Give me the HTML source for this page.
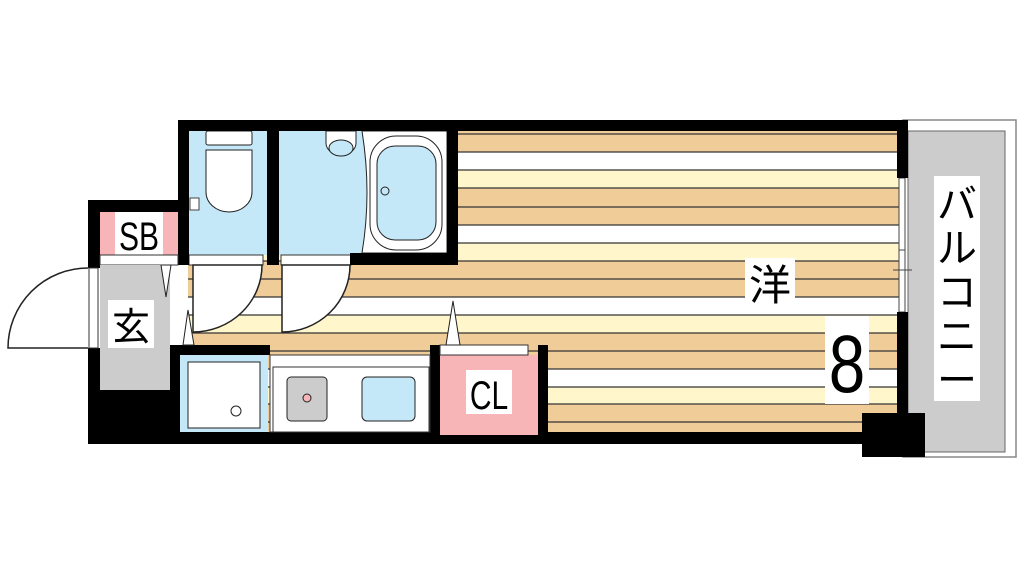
<!DOCTYPE html>
<html><head><meta charset="utf-8"><style>
html,body{margin:0;padding:0;background:#fff;width:1024px;height:576px;overflow:hidden}
svg{display:block}
text{font-family:"Liberation Sans","Noto Sans CJK JP",sans-serif}
</style></head><body>
<svg width="1024" height="576" viewBox="0 0 1024 576" xmlns="http://www.w3.org/2000/svg">
<defs>
<clipPath id="room"><rect x="188" y="131" width="712" height="302"/></clipPath>
</defs>
<g clip-path="url(#room)">
<rect x="188" y="131" width="712" height="302" fill="#f0cc98"/>
<g fill="#fff"><rect x="188" y="152" width="712" height="18"/><rect x="188" y="225" width="712" height="18"/><rect x="188" y="297" width="712" height="18"/><rect x="188" y="369" width="712" height="18"/></g>
<g fill="#fff6cc"><rect x="188" y="170" width="712" height="18"/><rect x="188" y="243" width="712" height="18"/><rect x="188" y="315" width="712" height="18"/><rect x="188" y="387" width="712" height="17"/></g>
<g stroke="#333" stroke-width="1.3">
<line x1="188" x2="900" y1="134" y2="134"/><line x1="188" x2="900" y1="152" y2="152"/><line x1="188" x2="900" y1="170" y2="170"/><line x1="188" x2="900" y1="188" y2="188"/><line x1="188" x2="900" y1="207" y2="207"/><line x1="188" x2="900" y1="225" y2="225"/><line x1="188" x2="900" y1="243" y2="243"/><line x1="188" x2="900" y1="261" y2="261"/><line x1="188" x2="900" y1="279" y2="279"/><line x1="188" x2="900" y1="297" y2="297"/><line x1="188" x2="900" y1="315" y2="315"/><line x1="188" x2="900" y1="333" y2="333"/><line x1="188" x2="900" y1="351" y2="351"/><line x1="188" x2="900" y1="369" y2="369"/><line x1="188" x2="900" y1="387" y2="387"/><line x1="188" x2="900" y1="404" y2="404"/><line x1="188" x2="900" y1="422" y2="422"/>
</g>
</g>
<rect x="903" y="120" width="113" height="337" fill="#fff" stroke="#888" stroke-width="1.5"/>
<rect x="908" y="131" width="97" height="321" fill="#ccc" stroke="#666" stroke-width="1"/>
<rect x="934" y="176" width="46" height="225" fill="#fff"/>
<text x="957" y="218" font-size="40" text-anchor="middle">バ</text>
<text x="957" y="262" font-size="40" text-anchor="middle">ル</text>
<text x="957" y="306" font-size="40" text-anchor="middle">コ</text>
<text x="957" y="350" font-size="40" text-anchor="middle">ニ</text>
<text x="957" y="394" font-size="40" text-anchor="middle">ー</text>
<rect x="899" y="178" width="6" height="72" fill="#fff" stroke="#444" stroke-width="1"/>
<rect x="899" y="250" width="6" height="62" fill="#fff" stroke="#444" stroke-width="1"/>
<line x1="893" y1="270" x2="912" y2="270" stroke="#444"/>
<rect x="189" y="131" width="78" height="124" fill="#c5e8f8"/>
<rect x="206" y="131" width="46" height="14" fill="#fff" stroke="#222" rx="2"/>
<path d="M206 150 h46 v42 a23 20 0 0 1 -46 0 z" fill="#fff" stroke="#222"/>
<rect x="190" y="198" width="9" height="12" fill="#fff" stroke="#444"/>
<rect x="279" y="131" width="168" height="124" fill="#c5e8f8"/>
<path d="M362 131 h85 v122 h-85 q10 -60 0 -122z" fill="#fff" stroke="#222"/>
<rect x="370" y="136" width="72" height="114" rx="26" fill="#fff" stroke="#222"/>
<rect x="377" y="146" width="59" height="94" rx="18" fill="#c5e8f8" stroke="#222"/>
<circle cx="385" cy="191" r="4" fill="none" stroke="#222"/>
<path d="M326 131 h30 v12 a15 12 0 0 1 -30 0z" fill="#fff" stroke="#222"/>
<ellipse cx="341" cy="148" rx="12" ry="8" fill="#c5e8f8" stroke="#222"/>
<rect x="189" y="255" width="74" height="10" fill="#fff" stroke="#333"/>
<rect x="281" y="255" width="70" height="10" fill="#fff" stroke="#333"/>
<path d="M193 265 v67 a69 67 0 0 0 69 -67z" fill="#fff" stroke="#222" stroke-width="1.5"/>
<path d="M282 265 v67 a68 67 0 0 0 68 -67z" fill="#fff" stroke="#222" stroke-width="1.5"/>
<g fill="#000">
<rect x="178" y="120" width="730" height="11"/>
<rect x="178" y="120" width="11" height="145"/>
<rect x="267" y="120" width="12" height="145"/>
<rect x="447" y="120" width="11" height="145"/>
<rect x="350" y="253" width="108" height="12"/>
<rect x="897" y="120" width="11" height="58"/>
<rect x="897" y="312" width="11" height="110"/>
<rect x="862" y="413" width="63" height="44"/>
<rect x="88" y="200" width="100" height="12"/>
<rect x="88" y="200" width="12" height="68"/>
<rect x="88" y="348" width="12" height="96"/>
<rect x="88" y="390" width="100" height="54"/>
<rect x="170" y="345" width="10" height="99"/>
<rect x="88" y="432" width="780" height="12"/>
<rect x="178" y="345" width="92" height="10"/>
<rect x="430" y="345" width="10" height="99"/>
<rect x="538" y="345" width="10" height="99"/>
</g>
<rect x="100" y="212" width="78" height="43" fill="#f7b5b8"/>
<rect x="115" y="212" width="48" height="43" fill="#fff"/>
<text x="0" y="250" font-size="40" text-anchor="middle" transform="translate(139 0) scale(0.75 1)">SB</text>
<rect x="100" y="255" width="78" height="10" fill="#fff" stroke="#333"/>
<rect x="100" y="265" width="70" height="125" fill="#ccc"/>
<rect x="108" y="300" width="46" height="48" fill="#fff"/>
<text x="131" y="340" font-size="38" text-anchor="middle">玄</text>
<rect x="89" y="268" width="9" height="80" fill="#fff" stroke="#333"/>
<path d="M88 268 a80 80 0 0 0 -80 80 h80" fill="none" stroke="#222" stroke-width="1.5"/>
<path d="M161 265 l5 32 l5 -32z" fill="#fff" stroke="#222"/>
<path d="M183 345 l5 -35 l6 35z" fill="#fff" stroke="#222"/>
<rect x="180" y="355" width="88" height="77" fill="#c5e8f8"/>
<rect x="188" y="362" width="72" height="66" fill="#fff" stroke="#222"/>
<circle cx="236" cy="411" r="5" fill="#fff" stroke="#222"/>
<rect x="270" y="355" width="160" height="77" fill="#fff" stroke="#333"/>
<rect x="273" y="367" width="156" height="65" fill="#fff" stroke="#333"/>
<rect x="287" y="377" width="40" height="44" rx="4" fill="#ccc" stroke="#222"/>
<circle cx="307" cy="398" r="4" fill="#f7b5b8" stroke="#222"/>
<rect x="362" y="377" width="53" height="44" rx="5" fill="#c5e8f8" stroke="#222"/>
<rect x="440" y="355" width="98" height="80" fill="#f7b5b8"/>
<rect x="440" y="345" width="88" height="10" fill="#fff" stroke="#333"/>
<path d="M446 345 l7 -44 l7 44z" fill="#fff" stroke="#222"/>
<rect x="466" y="370" width="46" height="44" fill="#fff"/>
<text x="0" y="409" font-size="40" text-anchor="middle" transform="translate(489 0) scale(0.75 1)">CL</text>
<rect x="745" y="258" width="50" height="50" fill="#fff"/>
<text x="770" y="300" font-size="42" text-anchor="middle">洋</text>
<rect x="825" y="316" width="44" height="88" fill="#fff"/>
<text x="0" y="392" font-size="82" text-anchor="middle" transform="translate(847 0) scale(0.8 1)">8</text>
</svg>
</body></html>
